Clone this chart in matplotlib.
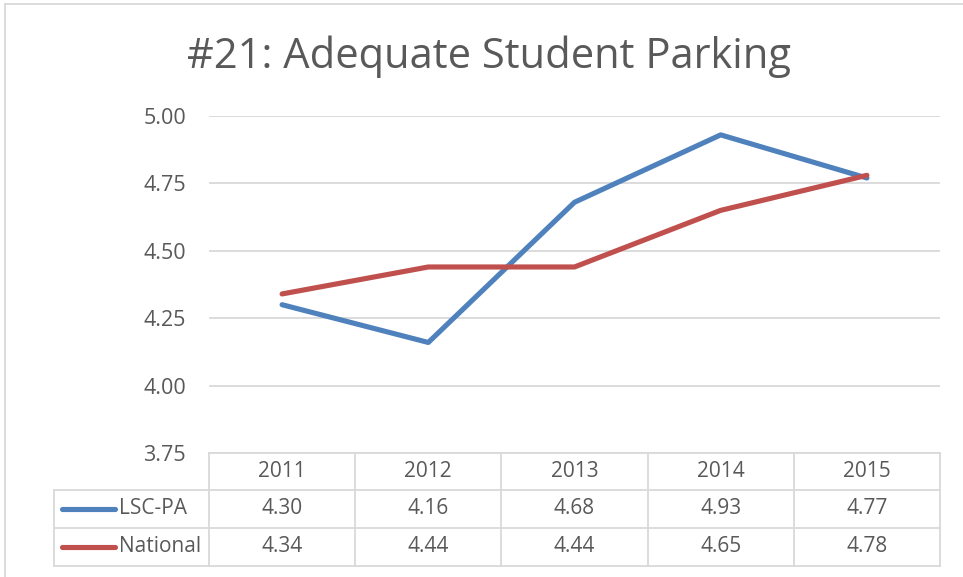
import matplotlib
matplotlib.use("Agg")
import matplotlib.pyplot as plt
from matplotlib.transforms import blended_transform_factory
from matplotlib.lines import Line2D

years = ["2011", "2012", "2013", "2014", "2015"]
lsc_pa = [4.30, 4.16, 4.68, 4.93, 4.77]
national = [4.34, 4.44, 4.44, 4.65, 4.78]
series_names = ["LSC-PA", "National"]
yticks = [3.75, 4.00, 4.25, 4.50, 4.75, 5.00]
title = "#21: Adequate Student Parking"

BLUE = "#4f81bd"
RED = "#c0504d"
GRID = "#d9d9d9"
TXT = "#595959"
FONT = ["Open Sans", "DejaVu Sans"]
plt.rcParams['font.family'] = FONT

W, H = 963, 577
fig = plt.figure(figsize=(W / 100, H / 100), dpi=100)

def fx(px):
    return px / W

def fy(py):
    return 1 - py / H

# plot area
left, right, top, bottom = 209, 940, 116, 453
ax = fig.add_axes([fx(left), fy(bottom), fx(right - left), (bottom - top) / H])
x = list(range(len(years)))
ax.plot(x, lsc_pa, color=BLUE, lw=3.7, solid_capstyle="round", zorder=3)
ax.plot(x, national, color=RED, lw=3.7, solid_capstyle="round", zorder=3)
ax.set_xlim(-0.5, len(years) - 0.5)
ax.set_ylim(yticks[0], yticks[-1])
ax.set_yticks(yticks)
ax.set_yticklabels([f"{v:.2f}" for v in yticks])
ax.set_xticks([])
for s in ax.spines.values():
    s.set_visible(False)
ax.grid(axis="y", color=GRID, lw=1.3)
ax.set_axisbelow(True)
ax.tick_params(axis="y", length=0, pad=16.5, labelsize=15.5, labelcolor=TXT)

# title
fig.text(fx(489), fy(57), title, ha="center", va="center", fontsize=30,
         color=TXT, family=FONT)

# chart border (left and top visible)
ov = fig.add_axes([0, 0, 1, 1], facecolor="none")
ov.set_xlim(0, W)
ov.set_ylim(H, 0)
ov.axis("off")
ov.plot([5, 5], [4, H], color=GRID, lw=1.3)
ov.plot([5, W], [4, 4], color=GRID, lw=1.3)

# data table
tr = blended_transform_factory(ax.transData, fig.transFigure)
row_edges = [453, 490, 528, 566]
tab_left = 54
lc = GRID
lw = 1.3
fig.add_artist(Line2D([-0.5, len(years) - 0.5], [fy(row_edges[0])] * 2, transform=tr, color=lc, lw=lw))
for py in row_edges[1:]:
    ov.plot([tab_left, left], [py, py], color=lc, lw=lw)
    fig.add_artist(Line2D([-0.5, len(years) - 0.5], [fy(py)] * 2, transform=tr, color=lc, lw=lw))
ov.plot([tab_left, tab_left], [row_edges[1], row_edges[3]], color=lc, lw=lw)
for i in range(len(years) + 1):
    fig.add_artist(Line2D([i - 0.5, i - 0.5], [fy(row_edges[0]), fy(row_edges[3])],
                          transform=tr, color=lc, lw=lw))

def rc(r):
    return fy((row_edges[r] + row_edges[r + 1]) / 2)

FS = 15
for i, yr in enumerate(years):
    fig.text(i, rc(0), yr, transform=tr, ha="center", va="center", fontsize=FS, color=TXT)
    fig.text(i, rc(1), f"{lsc_pa[i]:.2f}", transform=tr, ha="center", va="center", fontsize=FS, color=TXT)
    fig.text(i, rc(2), f"{national[i]:.2f}", transform=tr, ha="center", va="center", fontsize=FS, color=TXT)

for r, (name, col) in enumerate(zip(series_names, [BLUE, RED]), start=1):
    cy = (row_edges[r] + row_edges[r + 1]) / 2
    ov.plot([62, 115], [cy, cy], color=col, lw=3.7, solid_capstyle="round")
    ov.text(119, cy, name, ha="left", va="center", fontsize=FS, color=TXT)

fig.savefig("out.png", dpi=100)
